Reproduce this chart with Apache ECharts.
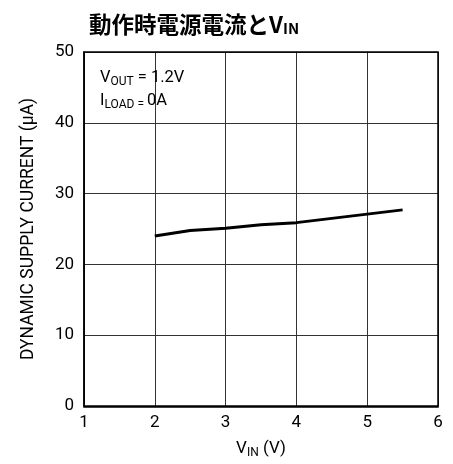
<!DOCTYPE html>
<html>
<head>
<meta charset="utf-8">
<script src="https://cdn.jsdelivr.net/npm/echarts@6/dist/echarts.min.js"></script>
<style>
  html, body { margin: 0; padding: 0; background: #fff; }
  #chart { width: 453px; height: 464px; }
</style>
</head>
<body>
<div id="chart"></div>
<script>
// Input voltage (V) and dynamic supply current (µA)
const vin = [2, 2.5, 3, 3.5, 4, 4.5, 5, 5.5];
const current = [24.0, 24.8, 25.1, 25.6, 25.9, 26.5, 27.1, 27.7];
const xTicks = [1, 2, 3, 4, 5, 6];
const yTicks = [0, 10, 20, 30, 40, 50];

const FONT = "'Roboto', 'Liberation Sans', sans-serif";
const CJK = "'Noto Sans CJK JP', sans-serif";
const chart = echarts.init(document.getElementById('chart'));

chart.setOption({
  animation: false,
  backgroundColor: '#fff',
  title: {
    text: '{t|動作時電源電流と}{t|V}{s|IN}',
    left: 84,
    top: 7,
    textStyle: {
      rich: {
        t: { fontFamily: CJK, fontWeight: 'bold', fontSize: 22.5, color: '#000' },
        s: { fontFamily: CJK, fontWeight: 'bold', fontSize: 15, color: '#000', padding: [9, 0, 0, 0] }
      }
    }
  },
  grid: { left: 84, right: 15, top: 52, bottom: 57 },
  xAxis: {
    type: 'value',
    min: xTicks[0], max: xTicks[xTicks.length - 1], interval: 1,
    name: '{v|V}{s|IN}{v| (V)}',
    nameLocation: 'middle',
    nameGap: 33,
    nameTextStyle: {
      rich: {
        v: { fontFamily: FONT, fontSize: 17, color: '#000' },
        s: { fontFamily: FONT, fontSize: 12, color: '#000', padding: [8, 0, 0, 0] }
      }
    },
    axisLine: { show: true, lineStyle: { color: '#000', width: 1.5 } },
    axisTick: { show: false },
    axisLabel: { fontFamily: FONT, fontSize: 17, color: '#000', margin: 8 },
    splitLine: { show: true, lineStyle: { color: '#333', width: 1 } }
  },
  yAxis: {
    type: 'value',
    min: yTicks[0], max: yTicks[yTicks.length - 1], interval: 10,
    name: 'DYNAMIC SUPPLY CURRENT (μA)',
    nameLocation: 'middle',
    nameGap: 46,
    nameTextStyle: { fontFamily: FONT, fontSize: 17.5, color: '#000' },
    axisLine: { show: true, lineStyle: { color: '#000', width: 1.5 } },
    axisTick: { show: false },
    axisLabel: { fontFamily: FONT, fontSize: 17, color: '#000', margin: 10 },
    splitLine: { show: true, lineStyle: { color: '#333', width: 1 } }
  },
  graphic: [
    {
      type: 'rect',
      shape: { x: 84, y: 52, width: 354, height: 355 },
      style: { fill: 'none', stroke: '#000', lineWidth: 1.5 },
      silent: true, z: 10
    },
    {
      type: 'text',
      left: 100, top: 68,
      style: {
        text: '{v|V}{s|OUT}{v| = 1.2V}\n{v|I}{s|LOAD = }{v|0A}',
        rich: {
          v: { fontFamily: FONT, fontSize: 16.5, color: '#000', lineHeight: 23 },
          s: { fontFamily: FONT, fontSize: 12, color: '#000', padding: [8, 0, 0, 0], lineHeight: 23 }
        },
        fill: '#000'
      },
      z: 11
    }
  ],
  series: [{
    type: 'line',
    data: vin.map((x, i) => [x, current[i]]),
    showSymbol: false,
    lineStyle: { color: '#000', width: 3 },
    z: 5
  }]
});
</script>
</body>
</html>
